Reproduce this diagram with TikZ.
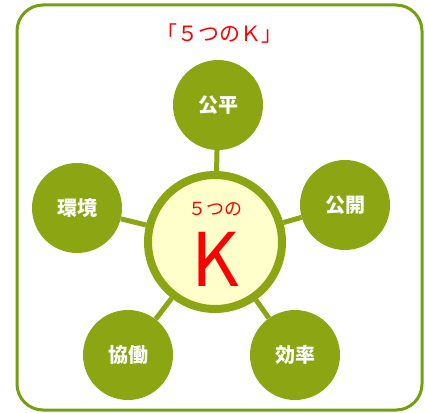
\documentclass[tikz,border=0pt]{standalone}
\usepackage{fontspec}
\newfontfamily\jpfont{Noto Sans CJK JP}
\usepackage{tikz}
\usetikzlibrary{positioning}
\definecolor{olive}{HTML}{8CA513}
\definecolor{frame}{HTML}{72A012}
\definecolor{cream}{HTML}{FFFFCC}
\definecolor{kred}{HTML}{FF0000}
\begin{document}
\begin{tikzpicture}[x=1pt,y=-1pt]
                \useasboundingbox (0,0) rectangle (425,412);
                \tikzstyle{every node}+=[inner sep=0pt,font=\jpfont]
                \tikzstyle{kcircle}=[circle,fill=olive,minimum size=90pt,text=white,font=\jpfont\bfseries\fontsize{20}{20}\selectfont]
                \tikzstyle{link}=[olive,line width=5pt]
                \draw [frame,line width=3pt,rounded corners=26pt] (17,5) rectangle (422,410);
                \node [text=kred,font=\jpfont\fontsize{21}{21}\selectfont] (title) at (219,34) {「５つのＫ」};
                \node [circle,draw=olive,line width=8pt,fill=cream,minimum size=134pt] (k) at (215,242) {};
                \node [kcircle] (kouhei) at (218,105) {公平};
                \node [kcircle] (kankyo) at (77,208) {環境};
                \node [kcircle] (koukai) at (345,205) {公開};
                \node [kcircle] (kyoudou) at (128,355) {協働};
                \node [kcircle] (kouritsu) at (295,355) {効率};
                \draw [link] (k) -- (kouhei);
                \draw [link] (k) -- (kankyo);
                \draw [link] (k) -- (koukai);
                \draw [link] (k) -- (kyoudou);
                \draw [link] (k) -- (kouritsu);
                \node [text=kred,font=\jpfont\fontsize{18}{18}\selectfont] (sub) at (215,209) {５つの};
                \node [text=kred,font=\jpfont\fontsize{74}{74}\selectfont] (bigk) at (215,259) {K};
\end{tikzpicture}
\end{document}
